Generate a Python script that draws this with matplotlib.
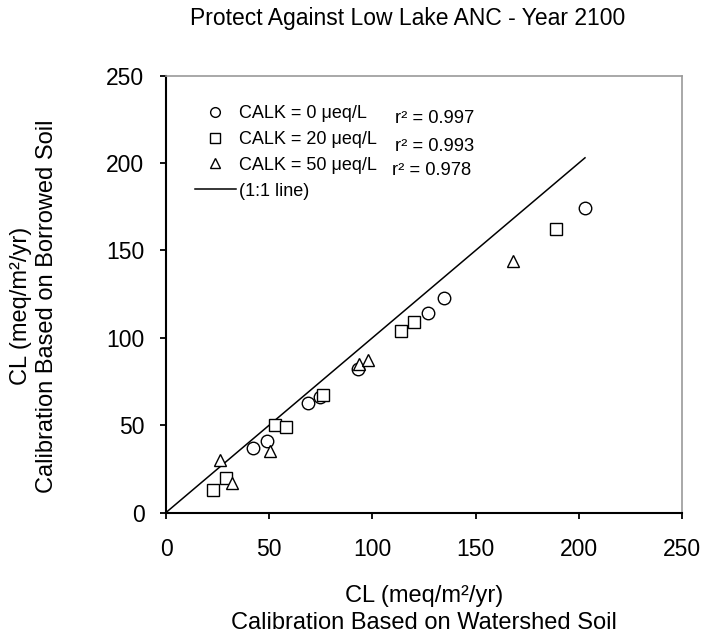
"""Borrowed-soil vs watershed-soil calibration of critical loads, year 2100."""
import matplotlib
matplotlib.use("Agg")
import matplotlib.pyplot as plt
from matplotlib.lines import Line2D

plt.rcParams["font.family"] = ["Liberation Sans", "DejaVu Sans"]

# CL (meq/m2/yr): watershed-soil calibration (x) vs borrowed-soil calibration (y)
calk0_x = [42, 49, 69, 74.5, 93, 127, 134.5, 203]
calk0_y = [37, 41, 62.5, 66, 82, 114, 123, 174.5]
calk20_x = [23, 29, 53, 58, 76, 114, 120, 189]
calk20_y = [13, 20, 50, 49, 67, 104, 109, 162.5]
calk50_x = [26, 32, 50.5, 93.5, 98, 168]
calk50_y = [30, 17, 35, 85, 87, 144]
one_to_one = [0, 203]

series_labels = ["CALK = 0 μeq/L", "CALK = 20 μeq/L", "CALK = 50 μeq/L"]
r_squared = ["0.997", "0.993", "0.978"]
ticks = [0, 50, 100, 150, 200, 250]

fig = plt.figure(figsize=(7.02, 6.35), dpi=100, facecolor="white")
ax = fig.add_axes([0.2365, 0.1929, 0.735, 0.6879])

ax.plot(one_to_one, one_to_one, color="black", lw=1.1, zorder=2)
mk = dict(ls="none", mfc="white", mec="black", mew=1.0, zorder=3)
ax.plot(calk0_x, calk0_y, marker="o", ms=9, **mk)
ax.plot(calk20_x, calk20_y, marker="s", ms=8.5, **mk)
ax.plot(calk50_x, calk50_y, marker="^", ms=9, **mk)

ax.set_xlim(0, 250)
ax.set_ylim(0, 250)
ax.set_xticks(ticks)
ax.set_yticks(ticks)
ax.tick_params(direction="out", length=4.5, width=1.3, labelsize=16.5)
ax.tick_params(axis="x", pad=13.5)
ax.tick_params(axis="y", pad=11)
for side in ("left", "bottom"):
    ax.spines[side].set_linewidth(1.5)
for side in ("top", "right"):
    ax.spines[side].set_color("#9a9a9a")
    ax.spines[side].set_linewidth(1.2)

# legend: three marker rows plus the 1:1 line
handles = [
    Line2D([], [], marker="o", ms=7, **mk),
    Line2D([], [], marker="s", ms=7, **mk),
    Line2D([], [], marker="^", ms=7, **mk),
    Line2D([], [], color="black", lw=1.1),
]
ax.legend(handles, series_labels + ["(1:1 line)"], frameon=False,
          loc="upper left", bbox_to_anchor=(195 / 702, 1 - 105 / 635),
          bbox_transform=fig.transFigure, borderaxespad=0, borderpad=0,
          handlelength=2.27, handletextpad=0.17, labelspacing=0.49,
          fontsize=13)

for i, (r2, y) in enumerate(zip(r_squared, [0.903, 0.839, 0.782])):
    xpos = 0.438 if i == 2 else 0.444
    ax.text(xpos, y, f"r² = {r2}", transform=ax.transAxes,
            ha="left", va="center", fontsize=13.2)

fig.text(407.5 / 702, 1 - 18 / 635, "Protect Against Low Lake ANC - Year 2100",
         ha="center", va="center", fontsize=16.5)
fig.text(424 / 702, 1 - 596 / 635, "CL (meq/m²/yr)",
         ha="center", va="center", fontsize=17)
fig.text(424 / 702, 1 - 623 / 635, "Calibration Based on Watershed Soil",
         ha="center", va="center", fontsize=17)
fig.text(21 / 702, 1 - 306 / 635, "CL (meq/m²/yr)", rotation=90,
         ha="center", va="center", fontsize=17)
fig.text(47 / 702, 1 - 306 / 635, "Calibration Based on Borrowed Soil", rotation=90,
         ha="center", va="center", fontsize=17)

fig.savefig("out.png", dpi=100, facecolor="white")
